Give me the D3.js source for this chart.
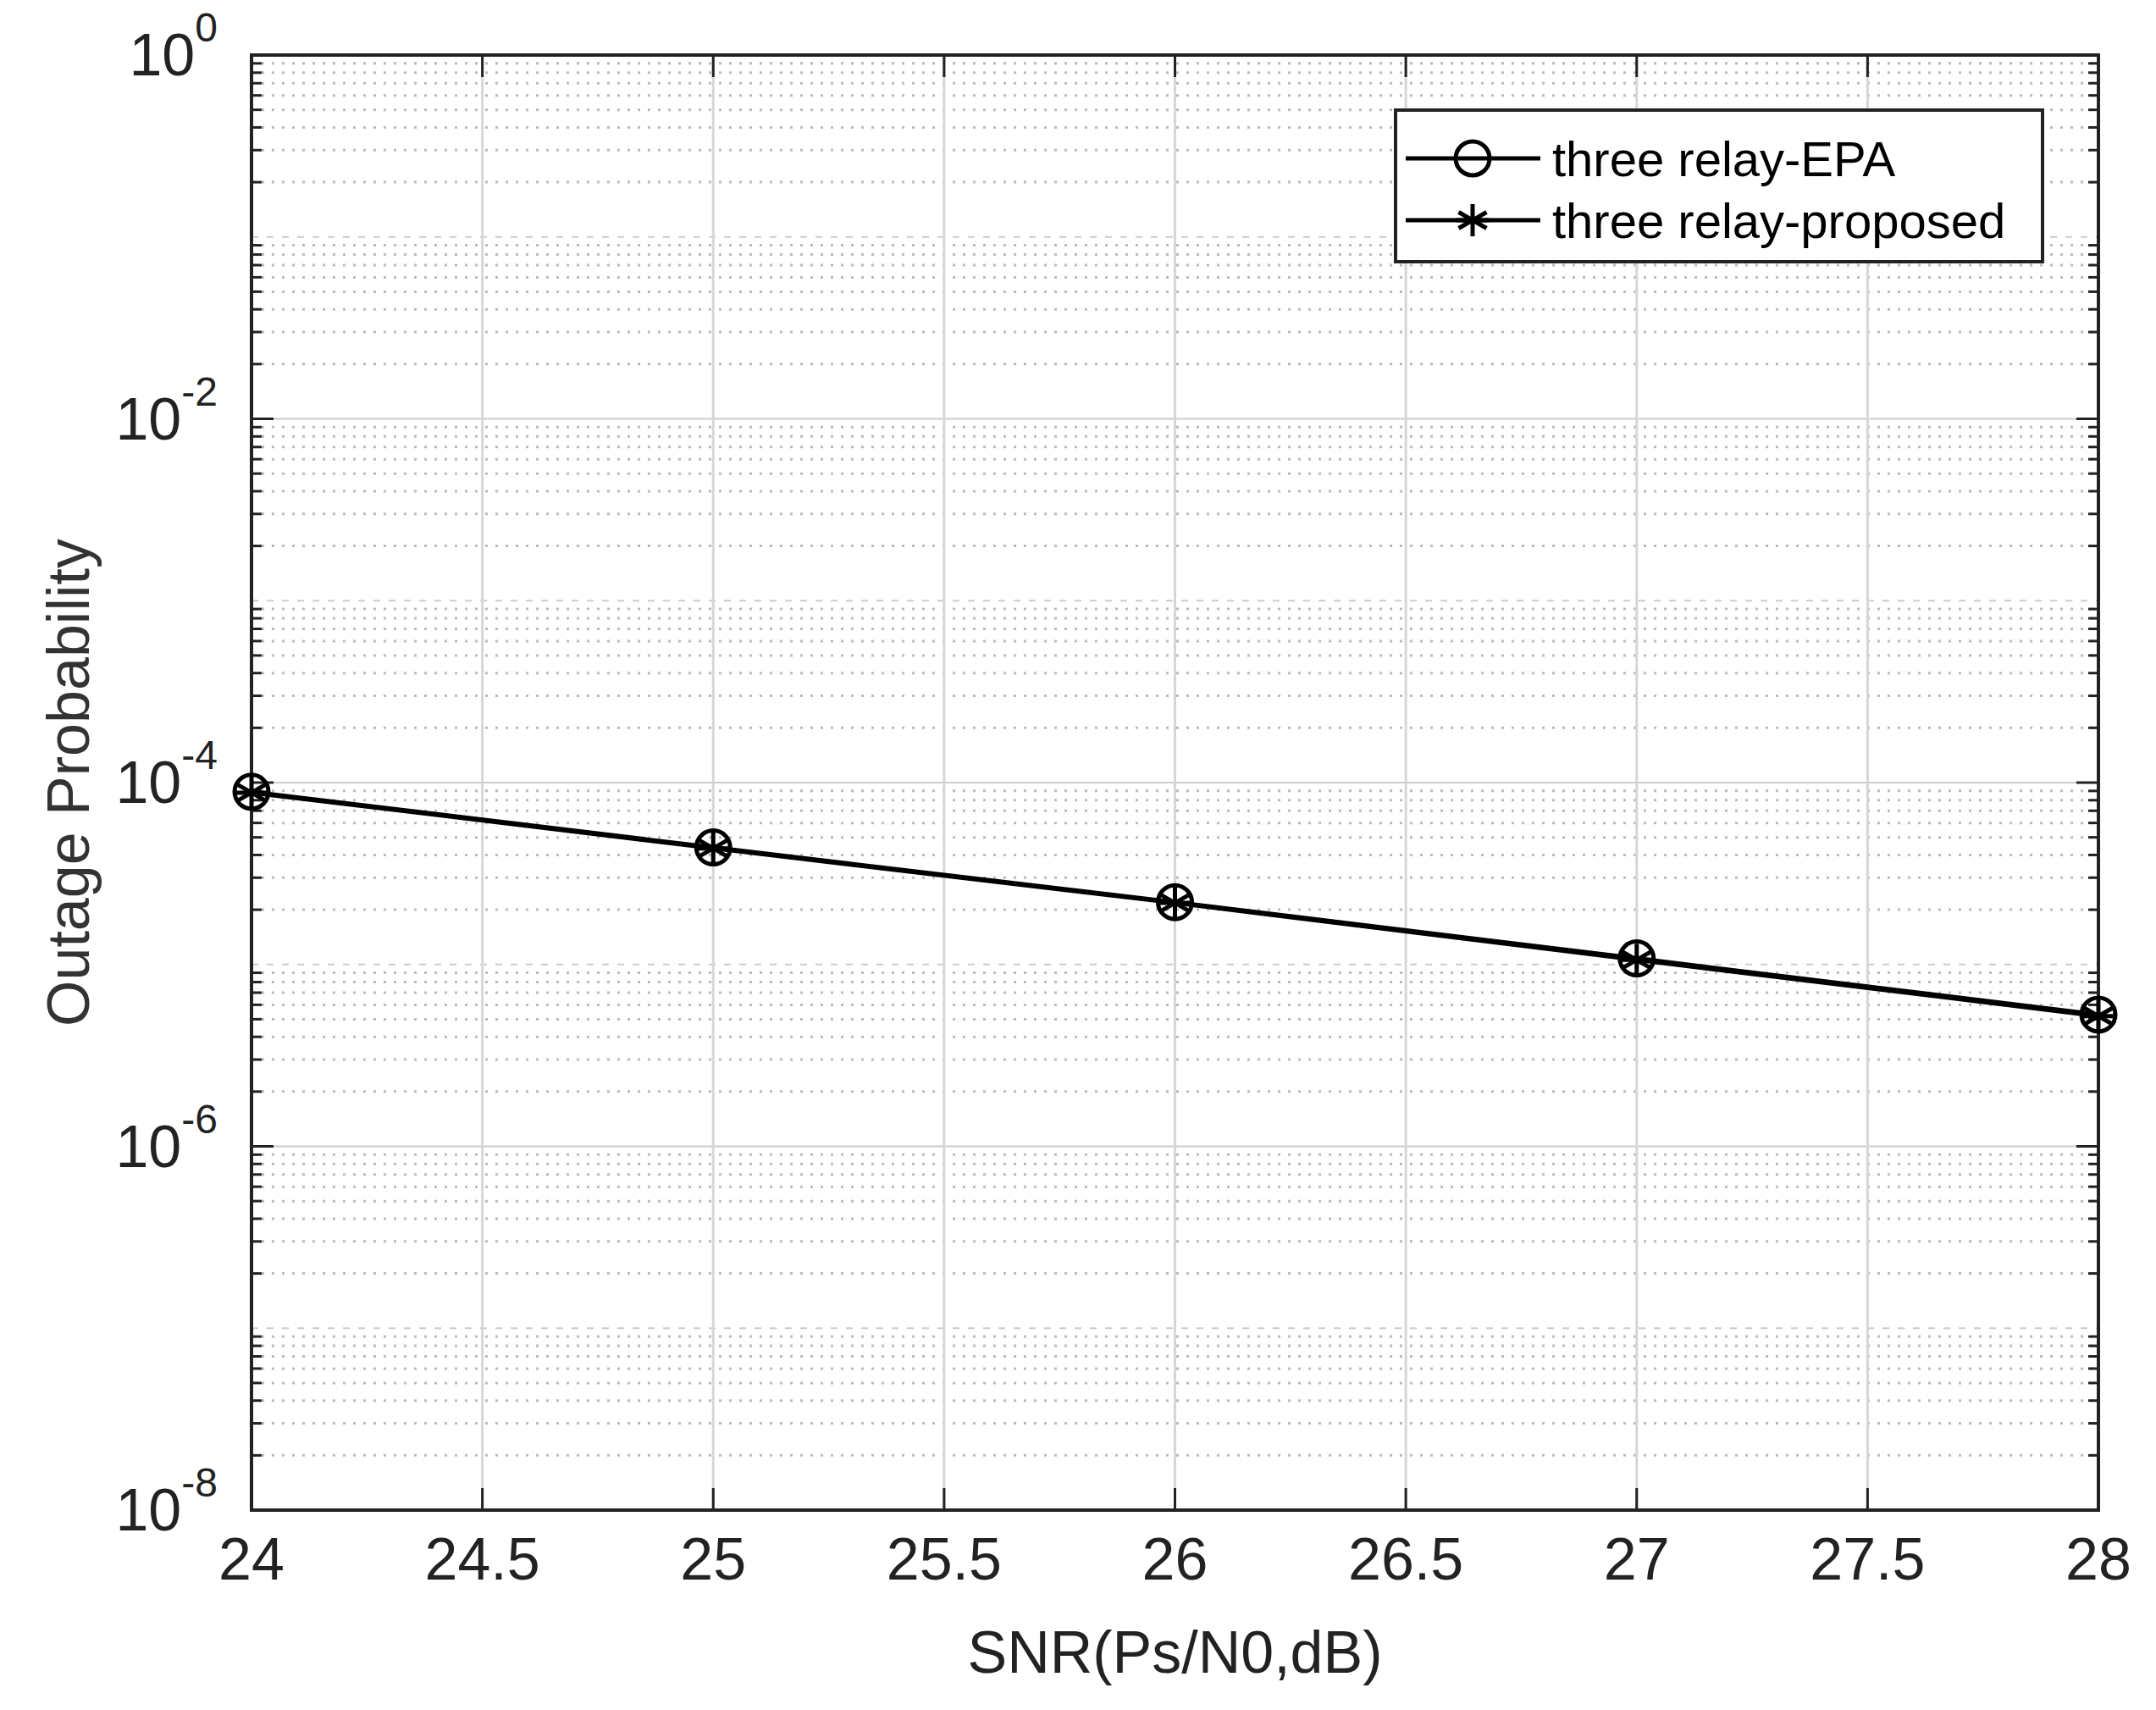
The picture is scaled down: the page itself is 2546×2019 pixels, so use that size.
<!DOCTYPE html>
<html><head><meta charset="utf-8">
<script src="https://cdn.jsdelivr.net/npm/d3@7"></script>
<style>body{margin:0;background:#fff}svg{font-family:"Liberation Sans",Arial,sans-serif}</style>
</head><body><svg id="c" width="2546" height="2019"></svg>
<script>
const snr = [24, 25, 26, 27, 28];
const epa = [8.9e-5, 4.4e-5, 2.2e-5, 1.08e-5, 5.3e-6];
const proposed = [8.8e-5, 4.35e-5, 2.18e-5, 1.06e-5, 5.2e-6];
const xTicks = [24, 24.5, 25, 25.5, 26, 26.5, 27, 27.5, 28];
const yExps = [0, -2, -4, -6, -8];
const seriesNames = ["three relay-EPA", "three relay-proposed"];

const L=297,R=2478,T=65,B=1783;
const svg=d3.select("#c");
const x=d3.scaleLinear().domain([24,28]).range([L,R]);
const y=d3.scaleLog().domain([1e-8,1]).range([B,T]);
const g=svg.append("g");
for(let e=-8;e<0;e++)for(let m=2;m<=9;m++){const v=m*Math.pow(10,e);
 g.append("line").attr("x1",L).attr("x2",R).attr("y1",y(v)).attr("y2",y(v)).attr("stroke","#bbb").attr("stroke-width",3).attr("stroke-dasharray","3,9");
 g.append("line").attr("x1",L).attr("x2",L+12).attr("y1",y(v)).attr("y2",y(v)).attr("stroke","#222").attr("stroke-width",3);
 g.append("line").attr("x1",R-12).attr("x2",R).attr("y1",y(v)).attr("y2",y(v)).attr("stroke","#222").attr("stroke-width",3);}
for(let e=-7;e<0;e++){const v=Math.pow(10,e);
 g.append("line").attr("x1",L).attr("x2",R).attr("y1",y(v)).attr("y2",y(v)).attr("stroke","#ccc").attr("stroke-width",2).attr("stroke-dasharray",e%2===0?null:"8,10");}
xTicks.forEach(t=>{
 g.append("line").attr("x1",x(t)).attr("x2",x(t)).attr("y1",T).attr("y2",B).attr("stroke","#d6d6d6").attr("stroke-width",3);
 g.append("line").attr("x1",x(t)).attr("x2",x(t)).attr("y1",B).attr("y2",B-26).attr("stroke","#222").attr("stroke-width",3);
 g.append("line").attr("x1",x(t)).attr("x2",x(t)).attr("y1",T).attr("y2",T+26).attr("stroke","#222").attr("stroke-width",3);
 g.append("text").attr("x",x(t)).attr("y",B+82).attr("text-anchor","middle").attr("font-size",70).attr("fill","#222").text(t);
});
yExps.forEach(e=>{const yy=y(Math.pow(10,e));
 g.append("line").attr("x1",L).attr("x2",L+26).attr("y1",yy).attr("y2",yy).attr("stroke","#222").attr("stroke-width",3);
 g.append("line").attr("x1",R-26).attr("x2",R).attr("y1",yy).attr("y2",yy).attr("stroke","#222").attr("stroke-width",3);
 const t=g.append("text").attr("x",L-40).attr("y",yy+24).attr("text-anchor","end").attr("font-size",70).attr("fill","#222");
 t.append("tspan").text("10");
 t.append("tspan").attr("dy",-40).attr("font-size",48).text(e);
});
g.append("rect").attr("x",L).attr("y",T).attr("width",R-L).attr("height",B-T).attr("fill","none").attr("stroke","#222").attr("stroke-width",4);
const line=d3.line().x((d,i)=>x(snr[i])).y(d=>y(d));
[epa,proposed].forEach(s=>svg.append("path").attr("d",line(s)).attr("fill","none").attr("stroke","#000").attr("stroke-width",5));
function star(sel,cx,cy,r){[0,60,120].forEach(a=>{const rad=a*Math.PI/180;
 sel.append("line").attr("x1",cx-r*Math.sin(rad)).attr("y1",cy-r*Math.cos(rad)).attr("x2",cx+r*Math.sin(rad)).attr("y2",cy+r*Math.cos(rad)).attr("stroke","#000").attr("stroke-width",5);});
 sel.append("line").attr("x1",cx-r).attr("x2",cx+r).attr("y1",cy).attr("y2",cy).attr("stroke","#000").attr("stroke-width",5);}
epa.forEach((v,i)=>svg.append("circle").attr("cx",x(snr[i])).attr("cy",y(v)).attr("r",20).attr("fill","none").attr("stroke","#000").attr("stroke-width",5));
proposed.forEach((v,i)=>star(svg,x(snr[i]),y(v),19));
svg.append("text").attr("x",(L+R)/2).attr("y",1975).attr("text-anchor","middle").attr("font-size",70).attr("fill","#222").text("SNR(Ps/N0,dB)");
svg.append("text").attr("transform",`translate(105,${(T+B)/2}) rotate(-90)`).attr("text-anchor","middle").attr("font-size",70).attr("fill","#333").text("Outage Probability");
const lg=svg.append("g");
lg.append("rect").attr("x",1648).attr("y",130).attr("width",764).attr("height",179).attr("fill","#fff").attr("stroke","#222").attr("stroke-width",4);
[0,1].forEach(i=>{const yy=187+i*73;
 lg.append("line").attr("x1",1660).attr("x2",1819).attr("y1",yy).attr("y2",yy).attr("stroke","#000").attr("stroke-width",5);
 if(i===0) lg.append("circle").attr("cx",1739).attr("cy",yy).attr("r",20).attr("fill","none").attr("stroke","#000").attr("stroke-width",5);
 else star(lg,1739,yy,19);
 lg.append("text").attr("x",1833).attr("y",yy+21).attr("font-size",58).attr("fill","#000").text(seriesNames[i]);
});
</script></body></html>
